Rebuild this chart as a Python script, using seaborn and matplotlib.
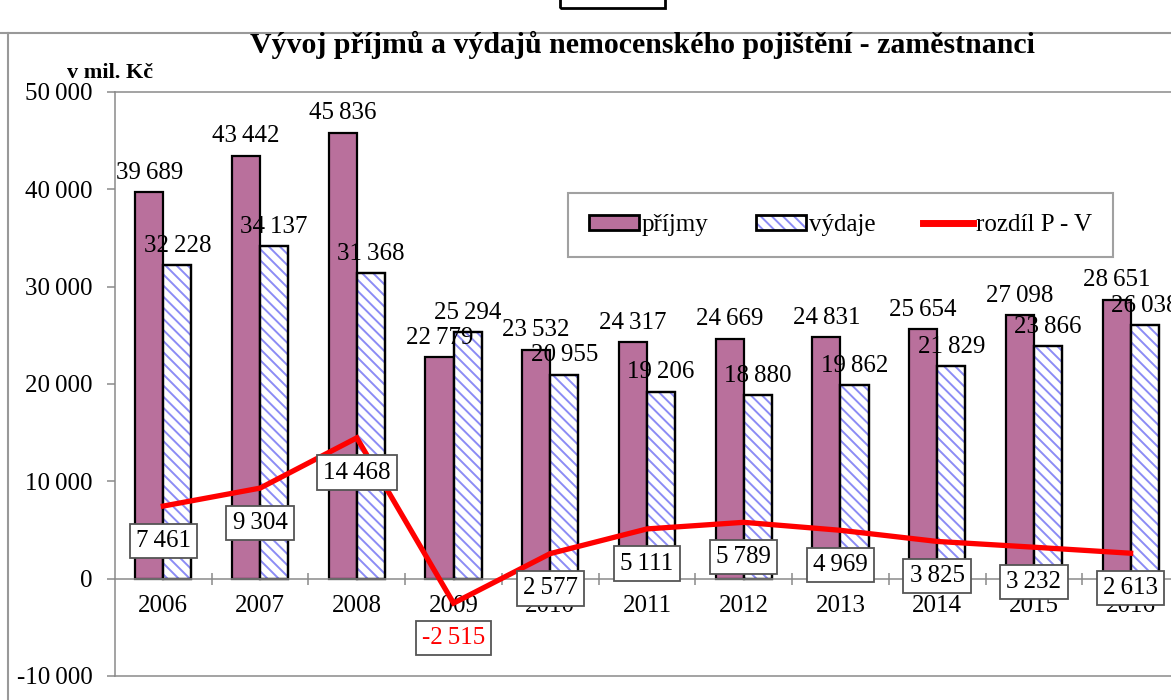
import matplotlib
matplotlib.use("Agg")
import matplotlib.pyplot as plt
from matplotlib.patches import Patch, Rectangle
from matplotlib.lines import Line2D
import numpy as np
import pandas as pd
import seaborn as sns

years = ["2006", "2007", "2008", "2009", "2010", "2011", "2012", "2013", "2014", "2015", "2016"]
prijmy = [39689, 43442, 45836, 22779, 23532, 24317, 24669, 24831, 25654, 27098, 28651]
vydaje = [32228, 34137, 31368, 25294, 20955, 19206, 18880, 19862, 21829, 23866, 26038]
rozdil = [7461, 9304, 14468, -2515, 2577, 5111, 5789, 4969, 3825, 3232, 2613]
yticks = [-10000, 0, 10000, 20000, 30000, 40000, 50000]

title = "Vývoj příjmů a výdajů nemocenského pojištění - zaměstnanci"
unit = "v mil. Kč"
names = ["příjmy", "výdaje", "rozdíl P - V"]

pink = "#B9709C"
stripe = "#8C8CF5"
grey = "#8A8A8A"
fs = 18

plt.rcParams["font.family"] = ["Liberation Serif", "DejaVu Serif"]
plt.rcParams["hatch.linewidth"] = 1.4


def fmt(v):
    s = f"{abs(v):,}".replace(",", "\u2009")
    return "-" + s if v < 0 else s


df = pd.DataFrame({
    "rok": years * 2,
    "hodnota": prijmy + vydaje,
    "typ": [names[0]] * len(years) + [names[1]] * len(years),
})

fig = plt.figure(figsize=(11.71, 7), dpi=100)
ax = fig.add_axes([115 / 1171, 24 / 700, 1064 / 1171, 584 / 700])

sns.barplot(data=df, x="rok", y="hodnota", hue="typ", palette=[pink, "white"],
            saturation=1, width=0.58, gap=0, edgecolor="black", linewidth=1.6,
            legend=False, ax=ax, zorder=2)

for p in ax.containers[1]:
    p.set_hatch("\\\\\\")
    p._hatch_color = matplotlib.colors.to_rgba(stripe)
    # outline on top of hatch
    ax.add_patch(Rectangle(p.get_xy(), p.get_width(), p.get_height(),
                           fill=False, edgecolor="black", lw=1.6, zorder=2.1))

ax.bar_label(ax.containers[0], labels=[fmt(v) for v in prijmy], padding=6,
             fontsize=fs, zorder=5)
ax.bar_label(ax.containers[1], labels=[fmt(v) for v in vydaje], padding=6,
             fontsize=fs, zorder=5)

xpos = np.arange(len(years))
sns.lineplot(x=xpos, y=rozdil, color="#FF0000", lw=3.8, ax=ax, zorder=4,
             solid_joinstyle="miter")
for x, v in zip(xpos, rozdil):
    ax.annotate(fmt(v), (x, v), xytext=(0, -25), textcoords="offset points",
                ha="center", va="center", fontsize=fs,
                color="#FF0000" if v < 0 else "black", zorder=6,
                bbox=dict(boxstyle="square,pad=0.25", fc="white", ec="#555555", lw=1.3))

ax.set_xlim(-0.5, 10.5)
ax.set_ylim(-10000, 50000)
ax.set_yticks(yticks)
ax.set_yticklabels([fmt(v) for v in yticks])
ax.set_xticks(xpos)
ax.set_xticklabels(years)
ax.set_xticks(xpos[:-1] + 0.5, minor=True)
ax.tick_params(axis="x", which="major", length=0, pad=12, labelsize=fs)
ax.tick_params(axis="x", which="minor", length=9, direction="inout", color=grey, width=1.1)
ax.tick_params(axis="y", length=6, direction="out", color=grey, width=1.1, pad=10,
               labelsize=fs)
ax.set_xlabel("")
ax.set_ylabel("")

for s in ax.spines.values():
    s.set_color(grey)
    s.set_linewidth(1.1)
ax.spines["bottom"].set_position(("data", 0))
ax.axhline(-10000, color=grey, lw=1.1, clip_on=False, zorder=1)

handles = [
    Patch(facecolor=pink, edgecolor="black", lw=2),
    Patch(facecolor="white", edgecolor="black", lw=2, hatch="\\\\\\"),
    Line2D([0], [0], color="#FF0000", lw=5),
]
handles[1]._hatch_color = matplotlib.colors.to_rgba(stripe)
leg = fig.legend(handles, names, loc="center", ncol=3, mode="expand",
                 bbox_to_anchor=(568 / 1171, 1 - 260 / 700, 545 / 1171, 70 / 700),
                 fontsize=fs, frameon=True, fancybox=False, handlelength=2.0,
                 handleheight=0.55, handletextpad=0.1, borderpad=0.85,
                 borderaxespad=0)
leg.get_frame().set_edgecolor(grey)
leg.get_frame().set_linewidth(1.5)

fig.text(642 / 1171, 1 - 45 / 700, title, ha="center", va="center",
         fontsize=21.5, fontweight="bold")
fig.text(110 / 1171, 1 - 73 / 700, unit, ha="center", va="center",
         fontsize=16, fontweight="bold")

# outer chart frame and the caption box cut at the top
fig.add_artist(Line2D([8 / 1171, 8 / 1171], [0, 1 - 33 / 700], color="#999999", lw=1.5))
fig.add_artist(Line2D([0, 1], [1 - 33 / 700, 1 - 33 / 700], color="#999999", lw=1.5))
fig.add_artist(Rectangle((560 / 1171, 1 - 8 / 700), 105 / 1171, 0.05,
                         fill=False, edgecolor="black", lw=2, transform=fig.transFigure))

fig.savefig("out.png", dpi=100)
